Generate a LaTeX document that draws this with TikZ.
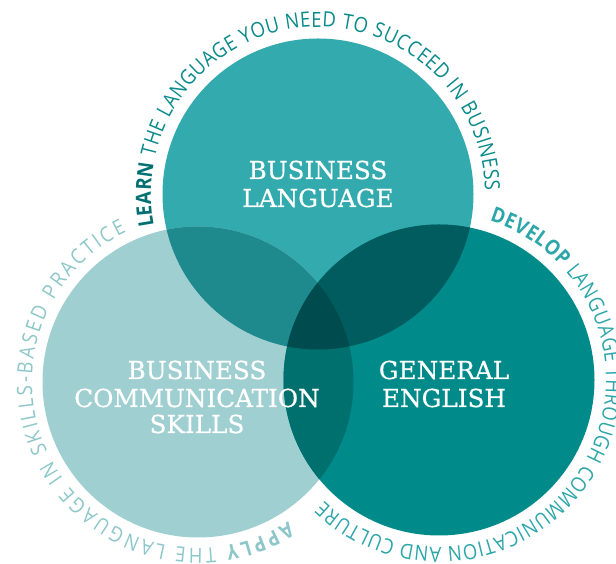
\documentclass[tikz,border=0pt]{standalone}
\usepackage{fontspec}
\setmainfont[FakeBold=0.6]{DejaVu Serif}
\newfontfamily\arcfontfam[FakeStretch=0.88]{Open Sans}
\usetikzlibrary{decorations.text,calc}
\definecolor{ctop}{HTML}{32AAAE}
\definecolor{clft}{HTML}{A0CFD2}
\definecolor{crgt}{HTML}{008A8A}
\definecolor{ctl}{HTML}{1F8A8E}
\definecolor{ctr}{HTML}{005C5E}
\definecolor{clr}{HTML}{00706F}
\definecolor{call}{HTML}{004B4D}
\definecolor{learncol}{HTML}{006F72}
\definecolor{toptxt}{HTML}{0B8A8B}
\definecolor{rgttxt}{HTML}{2DA6AA}
\definecolor{lfttxt}{HTML}{8EC7C9}
\newcommand\arcBold[1]{\arcfontfam\fontsize{21}{24}\selectfont\bfseries\color{#1}}
\newcommand\arcReg[1]{\arcfontfam\fontsize{21}{24}\selectfont\color{#1}}
\tikzset{
  lbl/.style={text=white, anchor=base, inner sep=0pt, font=\fontsize{24.7}{28}\selectfont},
  arctext/.style={decorate, decoration={text along path, text align={fit to path}, text={#1}}}
}
\begin{document}
\begin{tikzpicture}[x=1pt,y=1pt]
\useasboundingbox (0,0) rectangle (616,564);
\coordinate (T) at (318,370);
\coordinate (L) at (198,182);
\coordinate (R) at (439,184);
\def\rr{155.5}
% circles
\fill[ctop] (T) circle[radius=\rr];
\fill[clft] (L) circle[radius=\rr];
\fill[crgt] (R) circle[radius=\rr];
\begin{scope}
  \clip (T) circle[radius=\rr];
  \fill[ctl] (L) circle[radius=\rr];
  \fill[ctr] (R) circle[radius=\rr];
\end{scope}
\begin{scope}
  \clip (L) circle[radius=\rr];
  \fill[clr] (R) circle[radius=\rr];
  \clip (T) circle[radius=\rr];
  \fill[call] (R) circle[radius=\rr];
\end{scope}
% labels
\node[lbl] (t1) at (318,385) {BUSINESS};
\node[lbl] (t2) at (318,357) {LANGUAGE};
\node[lbl] (l1) at (197,185) {BUSINESS};
\node[lbl] (l2) at (197,157) {COMMUNICATION};
\node[lbl] (l3) at (197,131) {SKILLS};
\node[lbl] (r1) at (444,185) {GENERAL};
\node[lbl] (r2) at (444,157) {ENGLISH};
% arc texts
\path[arctext={|\arcBold{learncol}|LEARN |\arcReg{toptxt}|THE LANGUAGE YOU NEED TO SUCCEED IN BUSINESS}]
  ($(T)+(191:167)$) arc[start angle=191, end angle=1, radius=167];
\path[arctext={|\arcBold{rgttxt}|DEVELOP |\arcReg{rgttxt}|LANGUAGE THROUGH COMMUNICATION AND CULTURE}]
  ($(R)+(72.4:167)$) arc[start angle=72.4, end angle=-133.6, radius=167];
\path[arctext={|\arcBold{lfttxt}|APPLY |\arcReg{lfttxt}|THE LANGUAGE IN SKILLS-BASED PRACTICE}]
  ($(L)+(-57:166)$) arc[start angle=-57, end angle=-244.5, radius=166];
\end{tikzpicture}
\end{document}
